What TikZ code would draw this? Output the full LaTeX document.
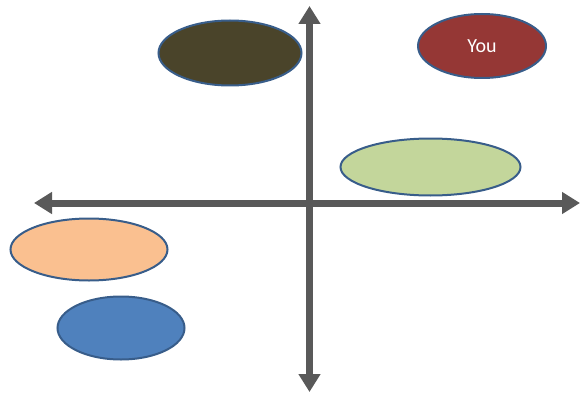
\documentclass[tikz,border=0pt]{standalone}
\usepackage{fontspec}
\setmainfont{Carlito}
\usetikzlibrary{arrows.meta,shapes.geometric}
\definecolor{axisgray}{HTML}{595959}
\definecolor{rimblue}{HTML}{385D8A}
\definecolor{olive}{HTML}{4A442A}
\definecolor{youred}{HTML}{953735}
\definecolor{lightgreen}{HTML}{C3D69B}
\definecolor{peach}{HTML}{FAC090}
\definecolor{midblue}{HTML}{4F81BD}
\tikzset{
  blob/.style={ellipse, draw=rimblue, line width=2pt, inner sep=0pt},
  axisline/.style={draw=axisgray, line width=7pt, -{Triangle[width=21pt,length=18pt]}},
}
\begin{document}
\begin{tikzpicture}[x=1pt,y=-1pt]
\useasboundingbox (0,0) rectangle (580,393);
\coordinate (c) at (309.5,203);
\coordinate (top) at (309.5,6);
\coordinate (bottom) at (309.5,392);
\coordinate (left) at (34,203);
\coordinate (right) at (580,203);
\draw[axisline] (c) -- (top);
\draw[axisline] (c) -- (bottom);
\draw[axisline] (c) -- (left);
\draw[axisline] (c) -- (right);
\node[blob, fill=olive, minimum width=143pt, minimum height=65pt] (olive) at (230,53) {};
\node[blob, fill=youred, minimum width=128pt, minimum height=64pt, text=white, font=\fontsize{20}{22}\selectfont] (you) at (482,46) {You};
\node[blob, fill=lightgreen, minimum width=180pt, minimum height=57pt] (green) at (430.5,167) {};
\node[blob, fill=peach, minimum width=157pt, minimum height=62pt] (peach) at (89,249.5) {};
\node[blob, fill=midblue, minimum width=127pt, minimum height=63pt] (blue) at (121,328) {};
\end{tikzpicture}
\end{document}
